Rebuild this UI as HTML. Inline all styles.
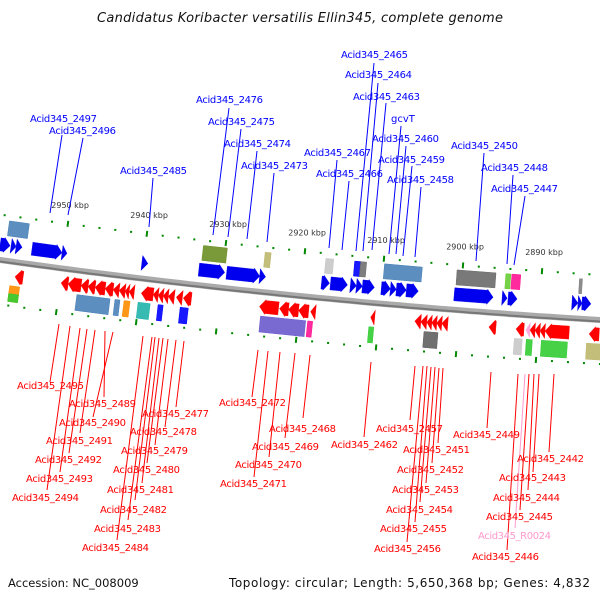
<!DOCTYPE html>
<html><head><meta charset="utf-8"><style>
html,body{margin:0;padding:0;background:#fff;}
svg{display:block;font-family:"DejaVu Sans","Liberation Sans",sans-serif;}
</style></head><body>
<svg id="chart" width="600" height="600" viewBox="0 0 600 600">
<text x="300" y="22" text-anchor="middle" font-style="italic" font-size="13" textLength="406" fill="#111">Candidatus Koribacter versatilis Ellin345, complete genome</text>
<text x="8" y="587" font-size="11.5" fill="#111">Accession: NC_008009</text>
<text x="590" y="587" font-size="12" text-anchor="end" textLength="361" fill="#111">Topology: circular; Length: 5,650,368 bp; Genes: 4,832</text>
<g id="layer"></g>
</svg>
<script>
// ---- data (kbp coordinates) ----
const fwdStart = [2958.05,2956.67,2956.04,2954.03,2950.25,2940.19,2933.0,2929.5,2925.34,2917.54,2916.41,2913.9,2913.14,2912.39,2910.0,2908.86,2908.11,2906.85,2900.81,2894.77,2894.02,2885.97,2885.21,2884.71];
const fwdEnd   = [2956.8,2956.04,2955.28,2950.25,2949.62,2939.43,2929.75,2925.34,2924.59,2916.54,2914.27,2913.14,2912.39,2910.88,2908.86,2908.11,2906.85,2905.34,2895.91,2894.15,2892.89,2885.21,2884.71,2883.58];
const revStart = [2955.66,2949.87,2948.99,2947.36,2946.48,2945.6,2944.34,2943.33,2942.58,2941.82,2941.32,2939.81,2938.3,2937.67,2937.04,2936.41,2935.41,2934.53,2924.97,2922.45,2921.32,2920.06,2918.55,2911.0,2905.47,2904.71,2903.96,2903.33,2902.7,2902.07,2896.16,2892.76,2891.51,2891.0,2890.37,2889.74,2889.11,2883.58];
const revEnd   = [2954.66,2948.99,2947.36,2946.48,2945.6,2944.34,2943.33,2942.58,2941.82,2941.32,2940.69,2938.3,2937.67,2937.04,2936.41,2935.66,2934.65,2933.52,2922.58,2921.32,2920.06,2918.8,2917.92,2910.5,2904.71,2903.96,2903.33,2902.7,2902.07,2901.32,2895.28,2891.76,2891.0,2890.37,2889.74,2889.11,2886.09,2882.32];
const revColor = revStart.map((v,i)=> i===32 ? '#ffaadd' : '#ff0000');
const upStart = [2957.3,2932.77,2924.97,2917.29,2913.64,2912.89,2909.87,2900.69,2894.52,2893.77,2885.21];
const upEnd   = [2954.78,2929.75,2924.21,2916.29,2912.89,2912.13,2905.09,2895.78,2893.89,2892.64,2884.84];
const upColor = ['#4a82b8','#6b8e23','#bdb76b','#c8c8c8','#0000ff','#707070','#4a82b8','#6a6a6a','#66cc33','#ff1493','#808080'];
const loStart = [2956.16,2947.74,2942.96,2941.82,2940.06,2937.55,2934.78,2924.71,2918.8,2911.13,2904.21,2892.89,2891.38,2889.49,2883.83];
const loEnd   = [2954.91,2943.58,2942.33,2941.07,2938.55,2936.92,2933.77,2919.05,2918.17,2910.5,2902.45,2891.88,2890.62,2886.22,2881.7];
const loColor = ['#ff8c00','#4a82b8','#4a82b8','#ff8c00','#20b2aa','#0000ff','#0000ff','#6a5acd','#ff1493','#33cc33','#606060','#c8c8c8','#33cc33','#33cc33','#bdb76b'];
const tickKbp = [2950,2940,2930,2920,2910,2900,2890];
const tickLabels = ['2950 kbp','2940 kbp','2930 kbp','2920 kbp','2910 kbp','2900 kbp','2890 kbp'];
const blueLabels = [
 ['Acid345_2497',30,122,62,135,50,213],['Acid345_2496',49,134,83,138,68,215],
 ['Acid345_2485',120,174,153,178,149,227],['Acid345_2476',196,103,229,108,213,235],
 ['Acid345_2475',208,125,241,129,228,237],['Acid345_2474',224,147,257,151,247,239],
 ['Acid345_2473',241,169,274,173,267,242],['Acid345_2465',341,58,374,63,356,251],
 ['Acid345_2464',345,78,378,83,363,251],['Acid345_2463',353,100,386,103,372,250],
 ['gcvT',391,122,401,126,389,254],['Acid345_2460',372,142,406,146,396,254],
 ['Acid345_2459',378,163,412,166,403,256],['Acid345_2458',387,183,421,187,415,257],
 ['Acid345_2467',304,156,337,160,329,248],['Acid345_2466',316,177,349,181,342,250],
 ['Acid345_2450',451,149,484,153,476,261],['Acid345_2448',481,171,513,175,507,264],
 ['Acid345_2447',491,192,525,196,514,265]];
const redLabels = [
 ['Acid345_2495',17,389,59,324,50,382],['Acid345_2494',12,501,70,326,47,490],
 ['Acid345_2493',26,482,80,328,60,472],['Acid345_2492',35,463,87,329,69,453],
 ['Acid345_2491',46,444,95,330,80,433],['Acid345_2490',59,426,113,332,93,417],
 ['Acid345_2489',69,407,105,331,104,397],
 ['Acid345_2477',142,417,184,341,176,407],['Acid345_2478',130,435,176,340,165,427],
 ['Acid345_2479',121,454,168,339,155,445],['Acid345_2480',113,473,163,338,147,463],
 ['Acid345_2481',107,493,159,338,142,483],['Acid345_2482',100,513,155,337,135,500],
 ['Acid345_2483',94,532,152,337,128,520],['Acid345_2484',82,551,143,336,117,540],
 ['Acid345_2472',219,406,258,350,252,397],['Acid345_2471',220,487,268,351,254,477],
 ['Acid345_2470',235,468,280,352,269,457],['Acid345_2469',252,450,295,353,285,438],
 ['Acid345_2468',269,432,310,355,303,418],['Acid345_2462',331,448,371,362,364,437],
 ['Acid345_2457',376,432,415,366,410,420],['Acid345_2456',374,552,423,366,407,542],
 ['Acid345_2455',380,532,427,366,415,522],['Acid345_2454',386,513,431,367,420,502],
 ['Acid345_2453',392,493,435,367,426,483],['Acid345_2452',397,473,439,368,432,463],
 ['Acid345_2451',403,453,443,368,438,443],['Acid345_2449',453,438,491,372,487,428],
 ['Acid345_2446',472,560,518,374,507,550],['Acid345_R0024',478,539,525,374,515,528,'#ff99cc'],
 ['Acid345_2445',486,520,529,374,520,510],['Acid345_2444',493,501,534,374,528,490],
 ['Acid345_2443',499,481,539,374,533,472],['Acid345_2442',517,462,554,374,549,452]];

const NS='http://www.w3.org/2000/svg';
const layer=document.getElementById('layer');
function xOf(k){ return (2957.8-k)/0.1258; }
function yb(x){ return 260+0.14*x-6.67e-5*x*x; }
function P(k,d){ const x=xOf(k); const s=0.14-2*6.67e-5*x; const n=Math.sqrt(1+s*s);
  return [x+s*d/n, yb(x)-d/n]; }
function mk(tag,attrs){ const e=document.createElementNS(NS,tag); for(const a in attrs) e.setAttribute(a,attrs[a]); layer.appendChild(e); return e; }
function poly(pts){ return pts.map(p=>p[0].toFixed(1)+','+p[1].toFixed(1)).join(' '); }

let bpts=[]; for(let x=-10;x<=610;x+=10){ bpts.push([x,yb(x)]); }
let bb=mk('polyline',{points:poly(bpts),fill:'none',stroke:'#aaaaaa','stroke-width':6});


let bb2=mk('polyline',{points:poly(bpts.map(p=>[p[0],p[1]+1.5])),fill:'none',stroke:'#777','stroke-width':2});



for(let k=2962;k>=2878;k-=2){
  const major = (k%10===0);
  [45,-44].forEach(d=>{
    if(major){ const a=P(k,d-3),b=P(k,d+3);
      const t=mk('line',{x1:a[0],y1:a[1],x2:b[0],y2:b[1],stroke:'#008800','stroke-width':2});
      
      
    } else { const a=P(k,d);
      const t=mk('rect',{x:a[0]-1,y:a[1]-1,width:2,height:2,fill:'#008800'});
      
      
    }
  });
}
tickKbp.forEach((k,i)=>{ const a=P(k,48);
  const t=mk('text',{x:a[0]-17,y:a[1]-13,'font-size':8,fill:'#333'}); t.textContent=tickLabels[i];
  
  
});

function box(k1,k2,d1,d2,col,name){
  const e=mk('polygon',{points:poly([P(k1,d1),P(k2,d1),P(k2,d2),P(k1,d2)]),fill:col,stroke:col,'stroke-width':0.5,'fill-opacity':0.9});
  
  
}
function arrow(k1,k2,a,b,col,name){
  const len=Math.abs(xOf(k2)-xOf(k1)); const h=Math.min(6,len)*0.1258*(k2<k1?1:-1);
  const m=(a+b)/2, a2=a+(b>a?1:-1), b2=b-(b>a?1:-1);
  const pts=[P(k1,a2),P(k2+h,a2),P(k2+h,a),P(k2,m),P(k2+h,b),P(k2+h,b2),P(k1,b2)];
  const e=mk('polygon',{points:poly(pts),fill:col,stroke:col,'stroke-width':0.4});
  
  
}
upStart.forEach((k,i)=>box(k,upEnd[i],25,40,upColor[i],'feature-box-upper'));
loStart.forEach((k,i)=>box(k,loEnd[i],-24,-40,loColor[i],'feature-box-lower'));
box(loStart[0],loEnd[0],-32,-40,'#33cc33','feature-box-lower-green');
fwdStart.forEach((k,i)=>arrow(k,fwdEnd[i],8,23,'#0000ee','forward-gene'));
revStart.forEach((k,i)=>arrow(revEnd[i],k,-7,-22,revColor[i],'reverse-gene'));

blueLabels.forEach(L=>{
  const ln=mk('line',{x1:L[3],y1:L[4],x2:L[5],y2:L[6],stroke:'#0000ff','stroke-width':1});
  
  
  const t=mk('text',{x:L[1],y:L[2],'font-size':10,fill:'#0000ff'}); t.textContent=L[0];
  if(L[0].length>6) t.setAttribute('textLength',67);
  
  
});
redLabels.forEach(L=>{
  const c=L[7]||'#ff0000';
  const ln=mk('line',{x1:L[3],y1:L[4],x2:L[5],y2:L[6],stroke:c,'stroke-width':1});
  
  
  const t=mk('text',{x:L[1],y:L[2],'font-size':10,fill:c}); t.textContent=L[0];
  t.setAttribute('textLength',L[0].length>12?73:67);
  
  
});
</script>
</body></html>
